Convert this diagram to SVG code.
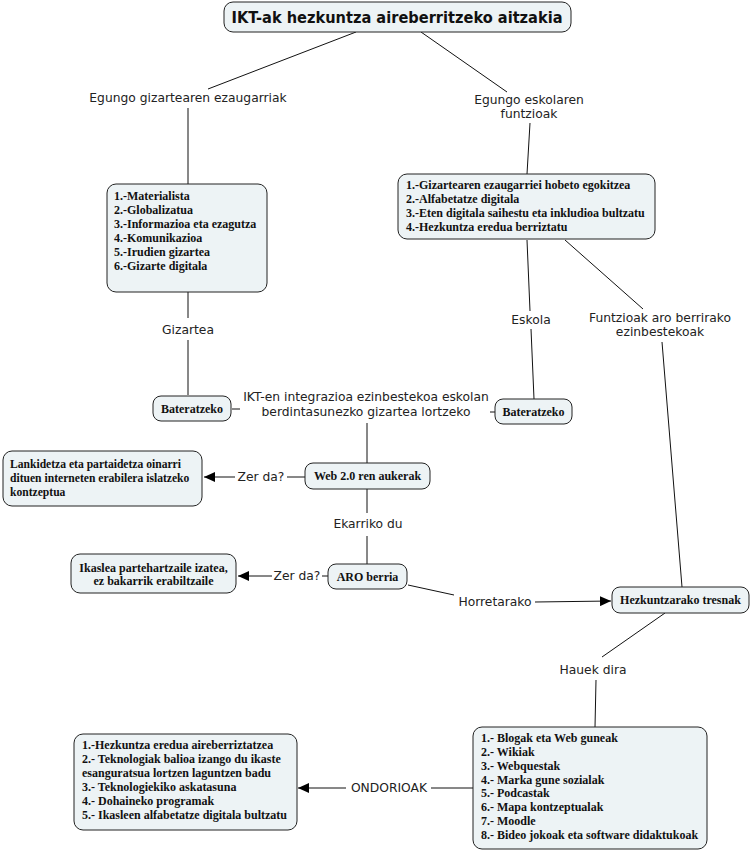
<svg xmlns="http://www.w3.org/2000/svg" width="752" height="852" viewBox="0 0 752 852">
<style>
.box{fill:#edf3f5;stroke:#222;stroke-width:1}
.t{font-family:"Liberation Serif","Times New Roman",serif;font-weight:bold;font-size:12px;fill:#111}
.ts{font-size:11.6px}
.l{font-family:"DejaVu Sans",Verdana,sans-serif;font-size:12.3px;fill:#222}
.ttl{font-family:"DejaVu Sans",Verdana,sans-serif;font-weight:bold;font-size:15px;fill:#111}
.c{stroke:#111;stroke-width:1;fill:none}
</style>
<defs>
<marker id="ar" markerUnits="userSpaceOnUse" markerWidth="12" markerHeight="10" refX="11" refY="5" orient="auto">
<path d="M0,0 L11,5 L0,10 z" fill="#000"/>
</marker>
</defs>
<rect width="752" height="852" fill="#fff"/>
<g id="connectors">
<line class="c" x1="356" y1="32" x2="208" y2="89"/>
<line class="c" x1="421" y1="32" x2="507" y2="92"/>
<line class="c" x1="188" y1="108" x2="188" y2="184"/>
<line class="c" x1="530" y1="123" x2="527" y2="174"/>
<line class="c" x1="188" y1="292" x2="188" y2="318"/>
<line class="c" x1="188" y1="340" x2="188" y2="395"/>
<line class="c" x1="527" y1="240" x2="530" y2="311"/>
<line class="c" x1="531" y1="329" x2="534" y2="399"/>
<line class="c" x1="565" y1="240" x2="643" y2="309"/>
<line class="c" x1="662" y1="342" x2="682" y2="587"/>
<line class="c" x1="232" y1="409" x2="240" y2="409"/>
<line class="c" x1="490" y1="412" x2="495" y2="412"/>
<line class="c" x1="367" y1="423" x2="367" y2="463"/>
<line class="c" x1="305" y1="477" x2="287" y2="477"/>
<line class="c" x1="235" y1="477" x2="204" y2="477" marker-end="url(#ar)"/>
<line class="c" x1="367" y1="489" x2="367" y2="513"/>
<line class="c" x1="367" y1="536" x2="367" y2="564"/>
<line class="c" x1="328" y1="576" x2="322" y2="576"/>
<line class="c" x1="272" y1="576" x2="238" y2="576" marker-end="url(#ar)"/>
<line class="c" x1="408" y1="585" x2="454" y2="595"/>
<line class="c" x1="535" y1="602" x2="611" y2="601" marker-end="url(#ar)"/>
<line class="c" x1="665" y1="613" x2="602" y2="657"/>
<line class="c" x1="596" y1="680" x2="595" y2="727"/>
<line class="c" x1="473" y1="788" x2="431" y2="788"/>
<line class="c" x1="346" y1="788" x2="298" y2="788" marker-end="url(#ar)"/>
</g>
<g id="title">
<rect class="box" x="224" y="2" width="347" height="30" rx="9"/>
<text class="ttl" x="397" y="22.5" text-anchor="middle" textLength="331" lengthAdjust="spacingAndGlyphs">IKT-ak hezkuntza aireberritzeko aitzakia</text>
</g>
<g id="lbl-egungo-gizartea"><text class="l" x="188" y="102" text-anchor="middle">Egungo gizartearen ezaugarriak</text></g>
<g id="lbl-egungo-eskola"><text class="l" x="529" y="104" text-anchor="middle">Egungo eskolaren</text><text class="l" x="529" y="118" text-anchor="middle">funtzioak</text></g>
<g id="gizartea-list">
<rect class="box" x="107" y="184" width="160" height="108" rx="9"/>
<text class="t" x="114" y="200">1.-Materialista</text>
<text class="t" x="114" y="214">2.-Globalizatua</text>
<text class="t" x="114" y="228">3.-Informazioa eta ezagutza</text>
<text class="t" x="114" y="242">4.-Komunikazioa</text>
<text class="t" x="114" y="256">5.-Irudien gizartea</text>
<text class="t" x="114" y="270">6.-Gizarte digitala</text>
</g>
<g id="eskola-list">
<rect class="box" x="398" y="174" width="257" height="65" rx="9"/>
<text class="t" x="406" y="189">1.-Gizartearen ezaugarriei hobeto egokitzea</text>
<text class="t" x="406" y="203">2.-Alfabetatze digitala</text>
<text class="t" x="406" y="217">3.-Eten digitala saihestu eta inkludioa bultzatu</text>
<text class="t" x="406" y="231">4.-Hezkuntza eredua berriztatu</text>
</g>
<g id="lbl-gizartea"><text class="l" x="188" y="334" text-anchor="middle">Gizartea</text></g>
<g id="lbl-eskola"><text class="l" x="531" y="324" text-anchor="middle">Eskola</text></g>
<g id="lbl-funtzioak"><text class="l" x="660" y="322" text-anchor="middle">Funtzioak aro berrirako</text><text class="l" x="660" y="336" text-anchor="middle">ezinbestekoak</text></g>
<g id="bateratzeko-1">
<rect class="box" x="153" y="396" width="78" height="25" rx="8"/>
<text class="t" x="192" y="412.5" text-anchor="middle">Bateratzeko</text>
</g>
<g id="lbl-ikt"><text class="l" x="366" y="401" text-anchor="middle">IKT-en integrazioa ezinbestekoa eskolan</text><text class="l" x="366" y="416" text-anchor="middle">berdintasunezko gizartea lortzeko</text></g>
<g id="bateratzeko-2">
<rect class="box" x="495" y="399" width="77" height="25" rx="8"/>
<text class="t" x="533.5" y="415.5" text-anchor="middle">Bateratzeko</text>
</g>
<g id="web20">
<rect class="box" x="305" y="463" width="125" height="26" rx="8"/>
<text class="t" x="367.5" y="480" text-anchor="middle">Web 2.0 ren aukerak</text>
</g>
<g id="lbl-zerda-1"><text class="l" x="261" y="481" text-anchor="middle">Zer da?</text></g>
<g id="lankidetza">
<rect class="box" x="3" y="451" width="199" height="55" rx="9"/>
<text class="t ts" x="10" y="468">Lankidetza eta partaidetza oinarri</text>
<text class="t ts" x="10" y="482">dituen interneten erabilera islatzeko</text>
<text class="t ts" x="10" y="496">kontzeptua</text>
</g>
<g id="lbl-ekarriko"><text class="l" x="368" y="528" text-anchor="middle">Ekarriko du</text></g>
<g id="aro-berria">
<rect class="box" x="328" y="564" width="79" height="25" rx="8"/>
<text class="t" x="367.5" y="580.5" text-anchor="middle">ARO berria</text>
</g>
<g id="lbl-zerda-2"><text class="l" x="297" y="580" text-anchor="middle">Zer da?</text></g>
<g id="ikaslea">
<rect class="box" x="71" y="554" width="165" height="39" rx="9"/>
<text class="t" x="153.5" y="572" text-anchor="middle">Ikaslea partehartzaile izatea,</text>
<text class="t" x="153.5" y="585" text-anchor="middle">ez bakarrik erabiltzaile</text>
</g>
<g id="lbl-horretarako"><text class="l" x="495" y="606" text-anchor="middle">Horretarako</text></g>
<g id="tresnak">
<rect class="box" x="612" y="587" width="137" height="26" rx="8"/>
<text class="t" x="680.5" y="604" text-anchor="middle">Hezkuntzarako tresnak</text>
</g>
<g id="lbl-hauek"><text class="l" x="593" y="674" text-anchor="middle">Hauek dira</text></g>
<g id="tresnak-list">
<rect class="box" x="473" y="727" width="234" height="122" rx="9"/>
<text class="t" x="481" y="742">1.- Blogak eta Web guneak</text>
<text class="t" x="481" y="756">2.- Wikiak</text>
<text class="t" x="481" y="770">3.- Webquestak</text>
<text class="t" x="481" y="784">4.- Marka gune sozialak</text>
<text class="t" x="481" y="797">5.- Podcastak</text>
<text class="t" x="481" y="811">6.- Mapa kontzeptualak</text>
<text class="t" x="481" y="825">7.- Moodle</text>
<text class="t" x="481" y="839">8.- Bideo jokoak eta software didaktukoak</text>
</g>
<g id="lbl-ondorioak"><text class="l" x="389" y="792" text-anchor="middle">ONDORIOAK</text></g>
<g id="ondorioak-list">
<rect class="box" x="74" y="734" width="223" height="96" rx="9"/>
<text class="t" x="82" y="749">1.-Hezkuntza eredua aireberriztatzea</text>
<text class="t" x="82" y="763">2.- Teknologiak balioa izango du ikaste</text>
<text class="t" x="82" y="777">esanguratsua lortzen laguntzen badu</text>
<text class="t" x="82" y="791">3.- Teknologiekiko askatasuna</text>
<text class="t" x="82" y="805">4.- Dohaineko programak</text>
<text class="t" x="82" y="819">5.- Ikasleen alfabetatze digitala bultzatu</text>
</g>
</svg>
